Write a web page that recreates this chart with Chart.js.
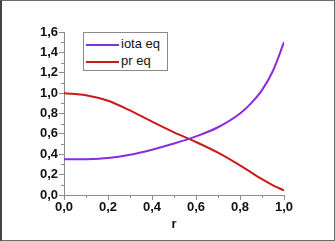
<!DOCTYPE html>
<html>
<head>
<meta charset="utf-8">
<script src="https://cdn.jsdelivr.net/npm/chart.js@4.4.0/dist/chart.umd.min.js"></script>
<style>
  html, body { margin: 0; padding: 0; background: #fff; }
  #wrap { position: relative; width: 335px; height: 241px; }
  #frame {
    position: absolute; left: 0; top: 0; width: 335px; height: 241px;
    box-sizing: border-box; border: 1px solid #6a6a6a; border-left: 2px solid #444;
    pointer-events: none;
  }
  #legend {
    position: absolute; left: 83px; top: 32px; width: 85px; height: 39px;
    box-sizing: border-box; border: 1px solid #8a8a8a; background: #fff;
    font-family: "Liberation Sans", Arial, sans-serif; font-size: 13px; color: #111;
  }
  .row { position: absolute; left: 2px; height: 15px; line-height: 15px; }
  .swatch { display: inline-block; width: 33px; height: 2px; vertical-align: middle; margin-right: 2px; }
</style>
</head>
<body>
<div id="wrap">
  <canvas id="chart" width="335" height="241"></canvas>
  <div id="legend">
    <div class="row" style="top:3px"><span class="swatch" style="background:#8a2be2"></span>iota eq</div>
    <div class="row" style="top:20px"><span class="swatch" style="background:#cc1a1a"></span>pr eq</div>
  </div>
  <div id="frame"></div>
</div>
<script>
// r values and both profiles
const rValues = [0, 0.1, 0.2, 0.3, 0.4, 0.5, 0.6, 0.7, 0.8, 0.85, 0.9, 0.95, 1.0];
const iotaEq = [0.35, 0.352, 0.363, 0.395, 0.445, 0.505, 0.575, 0.665, 0.80, 0.90, 1.03, 1.22, 1.50];
const prEq = [1.0, 0.98, 0.925, 0.83, 0.72, 0.615, 0.52, 0.415, 0.29, 0.222, 0.155, 0.095, 0.045];

const xTicks = [0, 0.2, 0.4, 0.6, 0.8, 1.0];
const yTicks = [0, 0.2, 0.4, 0.6, 0.8, 1.0, 1.2, 1.4, 1.6];

const font = { family: '"Liberation Sans", Arial, sans-serif', size: 13, weight: 'bold' };
const axisGray = '#8c8c8c';

function fmt(v) {
  return v.toFixed(1).replace('.', ',');
}

function points(ys) {
  return rValues.map((r, i) => ({ x: r, y: ys[i] }));
}

// short minor ticks halfway between the labelled ones
const minorTicks = {
  id: 'minorTicks',
  afterDraw(chart) {
    const ctx = chart.ctx;
    const xs = chart.scales.x;
    const ys = chart.scales.y;
    ctx.save();
    ctx.strokeStyle = axisGray;
    ctx.lineWidth = 1;
    ctx.beginPath();
    for (let i = 0; i < xTicks.length - 1; i++) {
      const px = Math.round(xs.getPixelForValue((xTicks[i] + xTicks[i + 1]) / 2)) + 0.5;
      ctx.moveTo(px, xs.top);
      ctx.lineTo(px, xs.top + 3);
    }
    for (let i = 0; i < yTicks.length - 1; i++) {
      const py = Math.round(ys.getPixelForValue((yTicks[i] + yTicks[i + 1]) / 2)) + 0.5;
      ctx.moveTo(ys.right, py);
      ctx.lineTo(ys.right - 3, py);
    }
    ctx.stroke();
    ctx.restore();
  },
};

new Chart(document.getElementById('chart'), {
  type: 'line',
  data: {
    datasets: [
      {
        label: 'iota eq',
        data: points(iotaEq),
        borderColor: '#8a2be2',
        borderWidth: 2,
        pointRadius: 0,
        cubicInterpolationMode: 'monotone',
      },
      {
        label: 'pr eq',
        data: points(prEq),
        borderColor: '#cc1a1a',
        borderWidth: 2,
        pointRadius: 0,
        cubicInterpolationMode: 'monotone',
      },
    ],
  },
  options: {
    responsive: false,
    animation: false,
    layout: { padding: { left: 0, right: 51, top: 32, bottom: 9 } },
    plugins: {
      legend: { display: false },
      tooltip: { enabled: false },
    },
    scales: {
      x: {
        type: 'linear',
        min: 0,
        max: 1,
        afterBuildTicks: (scale) => { scale.ticks = xTicks.map(v => ({ value: v })); },
        afterFit: (scale) => { scale.height = 37; },
        border: { color: axisGray, width: 1 },
        grid: { drawOnChartArea: false, tickLength: 5, color: axisGray },
        ticks: {
          color: '#111',
          font: font,
          padding: 0,
          maxRotation: 0,
          callback: (v) => fmt(v),
        },
        title: {
          display: true,
          text: 'r',
          color: '#111',
          font: font,
          padding: { top: 1, bottom: 0 },
        },
      },
      y: {
        type: 'linear',
        min: 0,
        max: 1.6,
        afterBuildTicks: (scale) => { scale.ticks = yTicks.map(v => ({ value: v })); },
        afterFit: (scale) => { scale.width = 64; },
        border: { color: axisGray, width: 1 },
        grid: { drawOnChartArea: false, tickLength: 5, color: axisGray },
        ticks: {
          color: '#111',
          font: font,
          padding: 1,
          callback: (v) => fmt(v),
        },
      },
    },
  },
  plugins: [minorTicks],
});
</script>
</body>
</html>
